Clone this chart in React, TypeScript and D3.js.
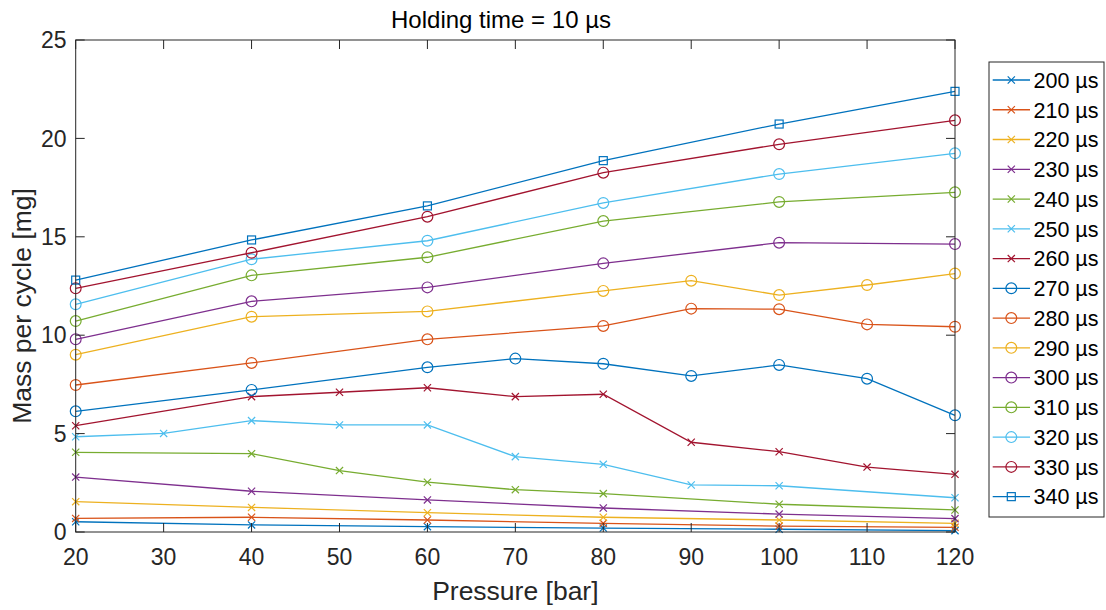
import * as d3 from "d3";

// holding time = 10 µs, mass per cycle [mg] vs pressure [bar]
const injTimes = [200, 210, 220, 230, 240, 250, 260, 270, 280, 290, 300, 310, 320, 330, 340];
const markers = ["x", "x", "x", "x", "x", "x", "x", "o", "o", "o", "o", "o", "o", "o", "s"];
const colors = ["#0072BD", "#D95319", "#EDB120", "#7E2F8E", "#77AC30", "#4DBEEE", "#A2142F"];

const pEven = [20, 40, 60, 80, 100, 120];

const s200 = pEven.map((p, i) => [p, [0.52, 0.36, 0.27, 0.2, 0.14, 0.07][i]]);
const s210 = pEven.map((p, i) => [p, [0.69, 0.75, 0.61, 0.44, 0.3, 0.24][i]]);
const s220 = pEven.map((p, i) => [p, [1.54, 1.25, 0.98, 0.75, 0.61, 0.44][i]]);
const s230 = pEven.map((p, i) => [p, [2.79, 2.07, 1.63, 1.22, 0.91, 0.68][i]]);
const s240 = [[20, 4.05], [40, 3.98], [50, 3.12], [60, 2.53], [70, 2.15], [80, 1.95], [100, 1.41], [120, 1.12]];
const s250 = [[20, 4.84], [30, 5.01], [40, 5.66], [50, 5.44], [60, 5.44], [70, 3.83], [80, 3.44], [90, 2.39], [100, 2.35], [120, 1.74]];
const s260 = [[20, 5.4], [40, 6.88], [50, 7.1], [60, 7.33], [70, 6.88], [80, 7.0], [90, 4.56], [100, 4.08], [110, 3.3], [120, 2.93]];
const s270 = [[20, 6.13], [40, 7.22], [60, 8.37], [70, 8.81], [80, 8.55], [90, 7.93], [100, 8.49], [110, 7.79], [120, 5.93]];
const s280 = [[20, 7.47], [40, 8.59], [60, 9.79], [80, 10.47], [90, 11.35], [100, 11.32], [110, 10.55], [120, 10.43]];
const s290 = [[20, 9.01], [40, 10.94], [60, 11.21], [80, 12.25], [90, 12.77], [100, 12.04], [110, 12.55], [120, 13.13]];
const s300 = pEven.map((p, i) => [p, [9.79, 11.72, 12.43, 13.65, 14.7, 14.63][i]]);
const s310 = pEven.map((p, i) => [p, [10.72, 13.04, 13.96, 15.8, 16.77, 17.26][i]]);
const s320 = pEven.map((p, i) => [p, [11.57, 13.86, 14.8, 16.72, 18.19, 19.24][i]]);
const s330 = pEven.map((p, i) => [p, [12.38, 14.19, 16.02, 18.26, 19.7, 20.92][i]]);
const s340 = pEven.map((p, i) => [p, [12.8, 14.84, 16.57, 18.87, 20.73, 22.39][i]]);

const allSeries = [s200, s210, s220, s230, s240, s250, s260, s270, s280, s290, s300, s310, s320, s330, s340];

const xTicks = [20, 30, 40, 50, 60, 70, 80, 90, 100, 110, 120];
const yTicks = [0, 5, 10, 15, 20, 25];

const font = "Liberation Sans, Arial, Helvetica, sans-serif";
const ink = "#262626";

function Marker({ type, x, y, color }: { type: string; x: number; y: number; color: string }) {
  if (type === "x") {
    const d = 3.6;
    return (
      <path d={`M${x - d},${y - d}L${x + d},${y + d}M${x - d},${y + d}L${x + d},${y - d}`} stroke={color} strokeWidth={1.2} fill="none" />
    );
  }
  if (type === "o") {
    return <circle cx={x} cy={y} r={5.4} stroke={color} strokeWidth={1.2} fill="none" />;
  }
  return <rect x={x - 4} y={y - 4} width={8} height={8} stroke={color} strokeWidth={1.2} fill="none" />;
}

export default function App() {
  const W = 1106, H = 610;
  const left = 75.7, right = 955, top = 40, bottom = 532;
  const x = d3.scaleLinear().domain([20, 120]).range([left, right]);
  const y = d3.scaleLinear().domain([0, 25]).range([bottom, top]);
  const line = d3.line<number[]>().x(d => x(d[0])).y(d => y(d[1]));
  const tl = 9;

  const legX = 989, legY = 62, legW = 115, legH = 455;
  const rowY = (i: number) => 80 + i * 29.76;

  return (
    <svg width={W} height={H} style={{ position: "absolute", left: 0, top: 0, background: "#fff" }} fontFamily={font}>
      <rect x={0} y={0} width={W} height={H} fill="#fff" />
      {/* series */}
      {allSeries.map((s, i) => {
        const c = colors[i % colors.length];
        return (
          <g key={injTimes[i]}>
            <path d={line(s as number[][]) || ""} stroke={c} strokeWidth={1.3} fill="none" />
            {s.map((d, j) => (
              <Marker key={j} type={markers[i]} x={x(d[0] as number)} y={y(d[1] as number)} color={c} />
            ))}
          </g>
        );
      })}
      {/* box */}
      <rect x={left} y={top} width={right - left} height={bottom - top} fill="none" stroke={ink} strokeWidth={1} />
      {xTicks.map(t => (
        <g key={"x" + t}>
          <line x1={x(t)} x2={x(t)} y1={bottom} y2={bottom - tl} stroke={ink} />
          <line x1={x(t)} x2={x(t)} y1={top} y2={top + tl} stroke={ink} />
          <text x={x(t)} y={565} fontSize={23} textAnchor="middle" fill={ink}>{t}</text>
        </g>
      ))}
      {yTicks.map(t => (
        <g key={"y" + t}>
          <line x1={left} x2={left + tl} y1={y(t)} y2={y(t)} stroke={ink} />
          <line x1={right} x2={right - tl} y1={y(t)} y2={y(t)} stroke={ink} />
          <text x={66.5} y={y(t)} dy="0.36em" fontSize={23} textAnchor="end" fill={ink}>{t}</text>
        </g>
      ))}
      <text x={501} y={28} fontSize={24} textAnchor="middle" fill="#000">Holding time = 10 µs</text>
      <text x={(left + right) / 2} y={600} fontSize={26.5} textAnchor="middle" fill={ink}>Pressure [bar]</text>
      <text transform={`translate(31,306) rotate(-90)`} fontSize={26.5} textAnchor="middle" fill={ink}>Mass per cycle [mg]</text>
      {/* legend */}
      <rect x={legX} y={legY} width={legW} height={legH} fill="#fff" stroke={ink} strokeWidth={1} />
      {injTimes.map((t, i) => {
        const c = colors[i % colors.length];
        const yy = rowY(i);
        return (
          <g key={"l" + t}>
            <line x1={992.7} x2={1030} y1={yy} y2={yy} stroke={c} strokeWidth={1.3} />
            <Marker type={markers[i]} x={1011.3} y={yy} color={c} />
            <text x={1033.5} y={yy} dy="0.36em" fontSize={21.5} fill="#000">{t} µs</text>
          </g>
        );
      })}
    </svg>
  );
}
